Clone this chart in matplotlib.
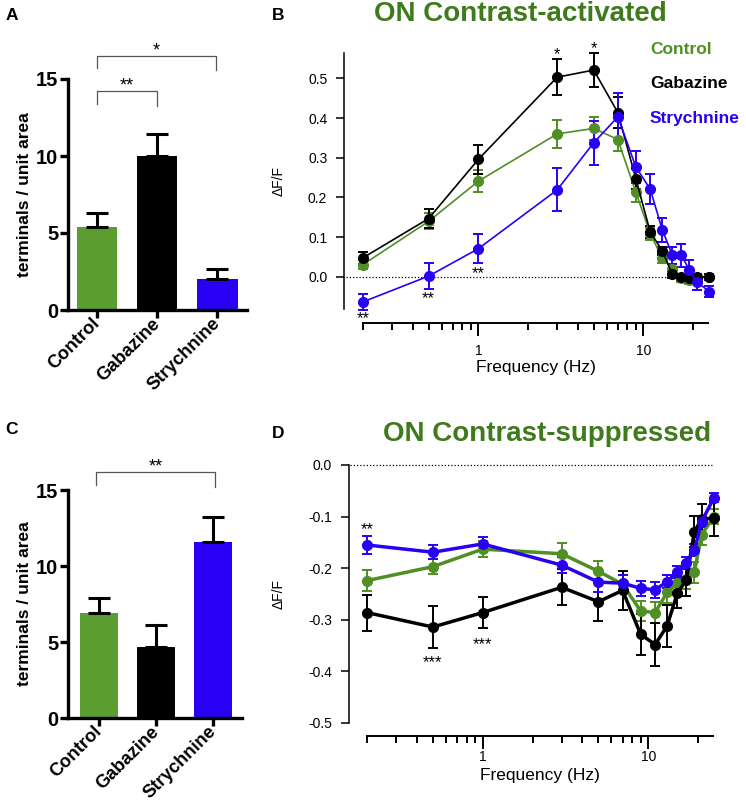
import matplotlib
matplotlib.use("Agg")
import matplotlib.pyplot as plt
import numpy as np

plt.rcParams['font.family'] = ['Liberation Sans', 'DejaVu Sans']

# ---------------- data ----------------
groups = ["Control", "Gabazine", "Strychnine"]
bar_colors = ["#5c9d32", "#000000", "#2a00f5"]

A_mean = [5.4, 10.0, 2.0]
A_err = [0.93, 1.4, 0.68]
C_mean = [6.9, 4.7, 11.6]
C_err = [1.0, 1.4, 1.6]

freq = [0.2, 0.5, 1, 3, 5, 7, 9, 11, 13, 15, 17, 19, 21, 25]

B_ctrl = [0.031, 0.140, 0.241, 0.360, 0.374, 0.346, 0.213, 0.109, 0.047, 0.020, -0.003, -0.007, -0.005, 0.0]
B_ctrl_err = [0.012, 0.02, 0.027, 0.036, 0.03, 0.03, 0.025, 0.015, 0.013, 0.012, 0.01, 0.01, 0.008, 0.006]
B_gab = [0.048, 0.147, 0.296, 0.503, 0.521, 0.414, 0.247, 0.113, 0.066, 0.006, 0.0, -0.003, 0.0, 0.0]
B_gab_err = [0.015, 0.023, 0.036, 0.045, 0.042, 0.04, 0.025, 0.015, 0.01, 0.008, 0.008, 0.008, 0.008, 0.008]
B_str = [-0.063, 0.002, 0.071, 0.219, 0.338, 0.403, 0.277, 0.221, 0.119, 0.054, 0.054, 0.017, -0.012, -0.037]
B_str_err = [0.02, 0.032, 0.036, 0.054, 0.055, 0.06, 0.04, 0.037, 0.03, 0.022, 0.028, 0.026, 0.02, 0.013]

D_ctrl = [-0.224, -0.197, -0.163, -0.172, -0.206, -0.231, -0.283, -0.286, -0.247, -0.229, -0.221, -0.208, -0.135, -0.100]
D_ctrl_err = [0.02, 0.015, 0.016, 0.02, 0.02, 0.018, 0.02, 0.02, 0.02, 0.02, 0.02, 0.02, 0.02, 0.015]
D_gab = [-0.286, -0.314, -0.286, -0.237, -0.265, -0.243, -0.328, -0.348, -0.312, -0.248, -0.223, -0.129, -0.105, -0.103]
D_gab_err = [0.035, 0.04, 0.03, 0.035, 0.038, 0.038, 0.04, 0.042, 0.04, 0.03, 0.03, 0.03, 0.03, 0.034]
D_str = [-0.155, -0.169, -0.153, -0.194, -0.227, -0.229, -0.239, -0.242, -0.226, -0.207, -0.190, -0.165, -0.110, -0.063]
D_str_err = [0.017, 0.014, 0.013, 0.015, 0.02, 0.015, 0.015, 0.015, 0.012, 0.012, 0.012, 0.012, 0.01, 0.008]

line_colors = {"Control": "#4f8f24", "Gabazine": "#000000", "Strychnine": "#2a00f5"}
title_green = "#3f7a1c"

W, H = 746, 801
fig = plt.figure(figsize=(W / 100, H / 100), dpi=100)


def px_axes(x0, y0, x1, y1):
    return fig.add_axes([x0 / W, 1 - y1 / H, (x1 - x0) / W, (y1 - y0) / H])


def bar_panel(ax, means, errs, brackets, xlim):
    x = np.arange(len(groups))
    ax.bar(x, means, width=0.667, color=bar_colors, edgecolor='none', zorder=2)
    for xi, m, e in zip(x, means, errs):
        ax.errorbar(xi, m, yerr=[[0], [e]], fmt='none', ecolor='black',
                    elinewidth=2.2, capsize=8, capthick=2.2, zorder=3)
    ax.set_xlim(*xlim)
    ax.set_ylim(0, 15)
    ax.set_yticks([0, 5, 10, 15])
    ax.set_yticklabels(["0", "5", "10", "15"], fontsize=14.5, fontweight='bold')
    ax.set_xticks(x)
    ax.set_xticklabels(groups, rotation=45, ha='right', va='center',
                       rotation_mode='anchor', fontsize=13.2, fontweight='bold')
    for s in ['top', 'right']:
        ax.spines[s].set_visible(False)
    for s in ['left', 'bottom']:
        ax.spines[s].set_linewidth(2.4)
    ax.tick_params(axis='y', width=2.4, length=6, pad=1)
    ax.tick_params(axis='x', width=2.4, length=6, pad=2)
    ax.set_ylabel("terminals / unit area", fontsize=12.5, fontweight='bold', labelpad=3)
    for (i, j, yb, yl1, yl2, txt) in brackets:
        ax.plot([i, i, j, j], [yl1, yb, yb, yl2], color='#555555', lw=0.9,
                clip_on=False)
        ax.text((i + j) / 2, yb + 0.3, txt, ha='center', va='center',
                fontsize=13, clip_on=False)


# Panel A
axA = px_axes(68, 79, 247, 310)
bar_panel(axA, A_mean, A_err,
          [(0, 1, 14.24, 13.4, 13.25, "**"), (0, 1.97, 16.5, 15.7, 15.6, "*")],
          (-0.48, 2.49))

# Panel C
axC = px_axes(68, 490, 242, 718)
bar_panel(axC, C_mean, C_err,
          [(-0.05, 2.03, 16.2, 15.33, 15.18, "**")],
          (-0.54, 2.5))


def line_panel(ax, series, lw, ms, ylim, yticks, ylabels, left_out, bot_out,
               xpad, xlabelpad):
    for name, (vals, errs) in series.items():
        c = line_colors[name]
        ax.errorbar(freq, vals, yerr=errs, color=c, lw=lw, marker='o', ms=ms,
                    elinewidth=1.4, capsize=3.8, capthick=1.4, clip_on=False,
                    zorder=3)
    ax.set_xscale('log')
    ax.set_xlim(0.2, freq[-1] * 0.985)
    ax.set_ylim(*ylim)
    ax.axhline(0, color='black', lw=0.9, ls=(0, (1, 1.6)), zorder=1,
               xmin=-0.05, clip_on=False)
    ax.set_yticks(yticks)
    ax.set_yticklabels(ylabels, fontsize=13)
    ax.set_xticks([1, 10])
    ax.set_xticklabels(["1", "10"], fontsize=13)
    ax.set_xticks([0.2, 0.3, 0.4, 0.5, 0.6, 0.7, 0.8, 0.9, 2, 3, 4, 5, 6, 7, 8, 9, 20],
                  minor=True)
    ax.xaxis.set_minor_formatter(matplotlib.ticker.NullFormatter())
    for s in ['top', 'right']:
        ax.spines[s].set_visible(False)
    ax.spines['left'].set_position(('outward', left_out))
    ax.spines['bottom'].set_position(('outward', bot_out))
    ax.spines['left'].set_linewidth(1.1)
    ax.spines['bottom'].set_linewidth(1.4)
    ax.tick_params(axis='y', width=1.1, length=6, pad=6)
    ax.tick_params(axis='x', which='major', width=1.4, length=9, pad=xpad)
    ax.tick_params(axis='x', which='minor', width=1.4, length=5)
    ax.set_xlabel("Frequency (Hz)", fontsize=12.5, labelpad=xlabelpad)
    ax.set_ylabel("ΔF/F", fontsize=10, labelpad=16)


# Panel B
axB = px_axes(363, 53, 708, 309)
line_panel(axB,
           {"Control": (B_ctrl, B_ctrl_err), "Gabazine": (B_gab, B_gab_err),
            "Strychnine": (B_str, B_str_err)},
           1.2, 7, (-0.081, 0.564), [0.0, 0.1, 0.2, 0.3, 0.4, 0.5],
           ["0.0", "0.1", "0.2", "0.3", "0.4", "0.5"], 13.7, 10, 6, 1.5)
B_stars = [(3, 0.560, "*"), (5, 0.574, "*"), (0.2, -0.104, "**"),
           (0.5, -0.055, "**"), (1, 0.008, "**")]
for f, y, t in B_stars:
    axB.text(f, y, t, ha='center', va='center', fontsize=12, clip_on=False)
for i, (name, c) in enumerate(line_colors.items()):
    fig.text(650 / W, 1 - (49 + 34.5 * i) / H, name, color=c, fontsize=12.5,
             fontweight='bold', ha='left', va='center')

# Panel D
axD = px_axes(367, 465, 713, 723)
line_panel(axD,
           {"Control": (D_ctrl, D_ctrl_err), "Gabazine": (D_gab, D_gab_err),
            "Strychnine": (D_str, D_str_err)},
           2.5, 7, (-0.5, 0.0), [0.0, -0.1, -0.2, -0.3, -0.4, -0.5],
           ["0.0", "-0.1", "-0.2", "-0.3", "-0.4", "-0.5"], 13.2, 9.6, 1, 2.5)
D_stars = [(0.2, -0.126, "**"), (0.5, -0.383, "***"), (1, -0.349, "***")]
for f, y, t in D_stars:
    axD.text(f, y, t, ha='center', va='center', fontsize=12, clip_on=False)

# Titles and panel letters
fig.text(520 / W, 1 - 14 / H, "ON Contrast-activated", color=title_green,
         fontsize=20, fontweight='bold', ha='center', va='center')
fig.text(547 / W, 1 - 434 / H, "ON Contrast-suppressed", color=title_green,
         fontsize=20, fontweight='bold', ha='center', va='center')
for letter, (lx, ly) in {"A": (12, 16), "B": (278, 16), "C": (12, 429), "D": (278, 434)}.items():
    fig.text(lx / W, 1 - ly / H, letter, fontsize=12.5, fontweight='bold',
             ha='center', va='center')

fig.savefig("out.png", dpi=100)
